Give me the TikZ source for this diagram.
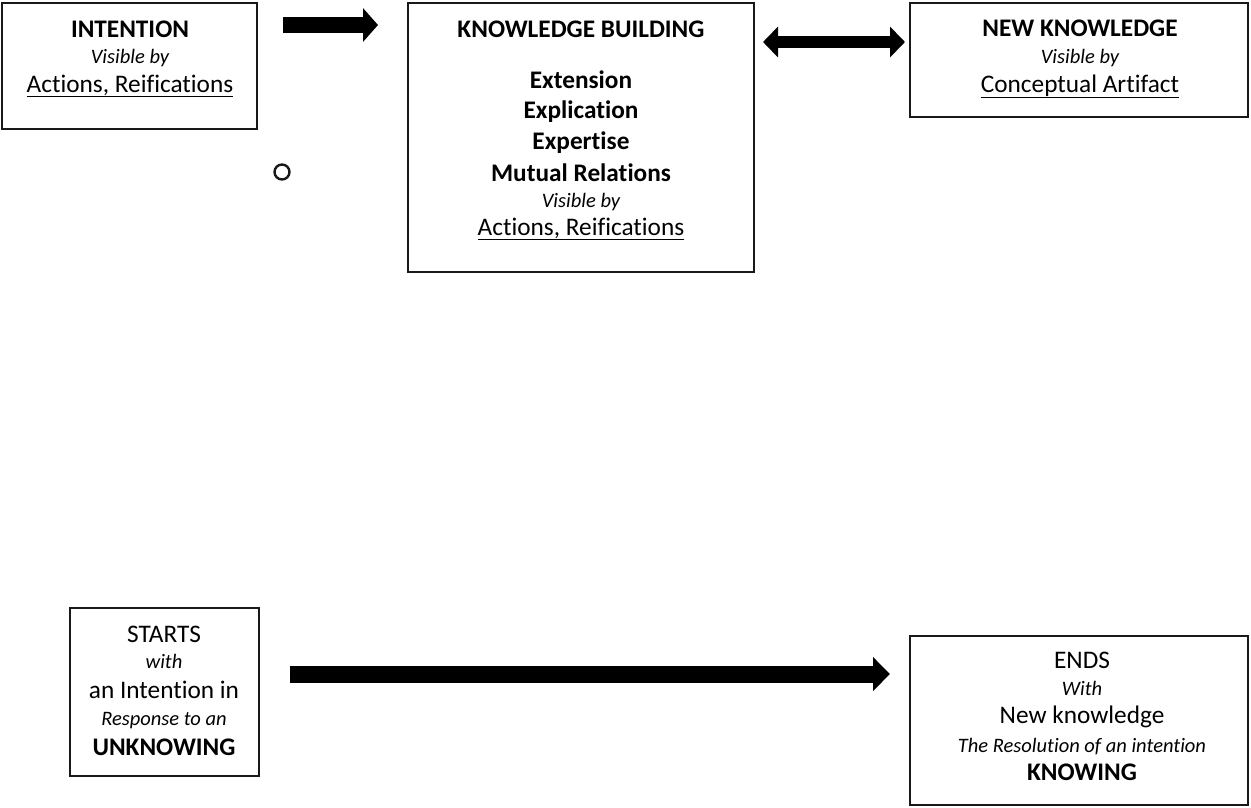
\documentclass[tikz,border=0pt]{standalone}
\usepackage{fontspec}
\setmainfont{Carlito}[Ligatures=NoCommon]
\usetikzlibrary{arrows.meta}
\tikzset{
  box/.style={draw=black!90, line width=1.6pt, inner sep=0pt, fill=white},
  txt/.style={anchor=base, inner sep=0pt, font=\fontsize{25.3}{28}\selectfont},
  hd/.style={txt, font=\fontsize{25.3}{28}\selectfont\bfseries},
  itl/.style={txt, font=\fontsize{20.5}{24}\selectfont\itshape},
}
\newcommand{\ul}[1]{\underline{#1}}
\begin{document}
\begin{tikzpicture}[x=1pt,y=-1pt]
\useasboundingbox (0,0) rectangle (1251,807);
% boxes
\node[box, minimum width=255pt, minimum height=126pt] (int) at (129.5,66) {};
\node[box, minimum width=346pt, minimum height=269pt] (kb) at (581,137.5) {};
\node[box, minimum width=338pt, minimum height=114pt] (nk) at (1079,60) {};
\node[box, minimum width=189pt, minimum height=168pt] (st) at (164.5,692) {};
\node[box, minimum width=338pt, minimum height=169pt] (en) at (1079,720.5) {};
% INTENTION
\node[hd] (int1) at (130,37) {INTENTION};
\node[itl] (int2) at (130,63) {Visible by};
\node[txt] (int3) at (130,92) {\ul{Actions, Reifications}};
% KNOWLEDGE BUILDING
\node[hd] (kb1) at (581,37) {KNOWLEDGE BUILDING};
\node[hd] (kb2) at (581,88) {Extension};
\node[hd] (kb3) at (581,118) {Explication};
\node[hd] (kb4) at (581,149) {Expertise};
\node[hd] (kb5) at (581,181) {Mutual Relations};
\node[itl] (kb6) at (581,207) {Visible by};
\node[txt] (kb7) at (581,235) {\ul{Actions, Reifications}};
% NEW KNOWLEDGE
\node[hd] (nk1) at (1080,36) {NEW KNOWLEDGE};
\node[itl] (nk2) at (1080,63) {Visible by};
\node[txt] (nk3) at (1080,92) {\ul{Conceptual Artifact}};
% STARTS
\node[txt] (st1) at (164,642) {STARTS};
\node[itl] (st2) at (164,668) {with};
\node[txt] (st3) at (164,698) {an Intention in};
\node[itl] (st4) at (164,725) {Response to an};
\node[hd] (st5) at (164,755) {UNKNOWING};
% ENDS
\node[txt] (en1) at (1082,668) {ENDS};
\node[itl] (en2) at (1082,695) {With};
\node[txt] (en3) at (1082,723) {New knowledge};
\node[itl] (en4) at (1082,752) {The Resolution of an intention};
\node[hd] (en5) at (1082,780) {KNOWING};
% circle
\node[draw=black!90, line width=2.4pt, circle, minimum size=15pt, inner sep=0pt] (dot) at (282,172) {};
% arrows
\coordinate (a1s) at (283,25);
\coordinate (a1e) at (378,25);
\draw[line width=16pt, -{Triangle[length=15pt, width=33pt]}] (a1s) -- (a1e);
\coordinate (a2s) at (763,42);
\coordinate (a2e) at (905,42);
\draw[line width=12pt, {Triangle[length=15pt, width=30pt]}-{Triangle[length=15pt, width=30pt]}] (a2s) -- (a2e);
\coordinate (a3s) at (290,674);
\coordinate (a3e) at (890,674);
\draw[line width=17pt, -{Triangle[length=17pt, width=33pt]}] (a3s) -- (a3e);
\end{tikzpicture}
\end{document}
